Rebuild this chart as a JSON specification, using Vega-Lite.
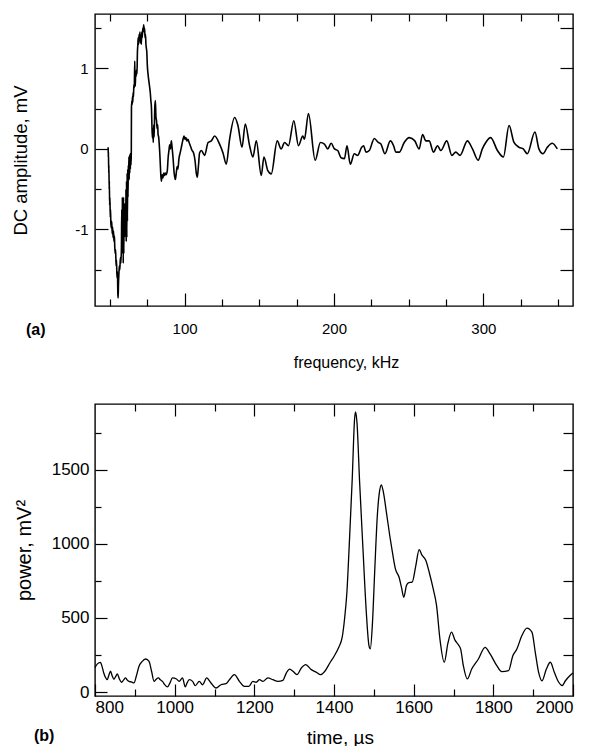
{
  "$schema": "https://vega.github.io/schema/vega-lite/v6.json",
  "background": "white",
  "padding": {"left": 10, "top": 12, "right": 5, "bottom": 0},
  "config": {
    "font": "Liberation Sans",
    "view": {"stroke": "black", "strokeWidth": 1.4},
    "axis": {"domain": false, "grid": false, "tickColor": "black", "labelColor": "black", "titleColor": "black", "titleFontWeight": "normal", "labelFont": "Liberation Sans", "titleFont": "Liberation Sans", "tickWidth": 1.2},
    "title": {"font": "Liberation Sans", "color": "black"}
  },
  "spacing": 31,
  "datasets": {
    "freq": [
      {"f":48.8,"v":0.02},{"f":48.9,"v":-0.1},{"f":49.0,"v":-0.04},{"f":49.2,"v":-0.3},{"f":49.3,"v":-0.2},{"f":49.5,"v":-0.5},{"f":49.6,"v":-0.4},{"f":49.8,"v":-0.7},{"f":50.0,"v":-0.6},{"f":50.2,"v":-0.85},{"f":50.4,"v":-0.75},{"f":50.6,"v":-0.92},{"f":50.9,"v":-0.98},{"f":51.2,"v":-0.9},{"f":51.5,"v":-1.05},{"f":51.8,"v":-0.97},{"f":52.1,"v":-1.1},{"f":52.4,"v":-1.02},{"f":52.7,"v":-1.15},{"f":53.0,"v":-1.08},{"f":53.2,"v":-1.2},{"f":53.5,"v":-1.3},{"f":53.8,"v":-1.25},{"f":54.1,"v":-1.45},{"f":54.4,"v":-1.38},{"f":54.7,"v":-1.6},{"f":55.0,"v":-1.52},{"f":55.3,"v":-1.8},{"f":55.5,"v":-1.85},{"f":55.7,"v":-1.68},{"f":56.0,"v":-1.55},{"f":56.3,"v":-1.45},{"f":56.6,"v":-1.5},{"f":57.0,"v":-1.35},{"f":57.3,"v":-1.42},{"f":57.7,"v":-1.22},{"f":57.9,"v":-0.75},{"f":58.1,"v":-1.2},{"f":58.3,"v":-0.6},{"f":58.5,"v":-1.3},{"f":58.7,"v":-0.65},{"f":58.9,"v":-1.42},{"f":59.1,"v":-0.6},{"f":59.3,"v":-1.3},{"f":59.5,"v":-0.7},{"f":59.7,"v":-1.1},{"f":59.9,"v":-0.68},{"f":60.1,"v":-1.05},{"f":60.3,"v":-0.7},{"f":60.5,"v":-1.09},{"f":60.7,"v":-0.5},{"f":60.9,"v":-1.15},{"f":61.1,"v":-0.4},{"f":61.3,"v":-1.1},{"f":61.5,"v":-0.3},{"f":61.7,"v":-0.9},{"f":61.9,"v":-0.25},{"f":62.1,"v":-0.6},{"f":62.3,"v":-0.2},{"f":62.5,"v":-0.35},{"f":62.7,"v":-0.1},{"f":62.9,"v":-0.38},{"f":63.1,"v":-0.08},{"f":63.3,"v":-0.3},{"f":63.5,"v":-0.06},{"f":63.7,"v":-0.25},{"f":63.9,"v":-0.05},{"f":64.1,"v":-0.2},{"f":64.3,"v":-0.05},{"f":64.4,"v":0.5},{"f":64.7,"v":0.6},{"f":64.9,"v":0.55},{"f":65.1,"v":0.65},{"f":65.3,"v":0.58},{"f":65.5,"v":0.7},{"f":65.8,"v":0.65},{"f":66.0,"v":0.8},{"f":66.3,"v":0.75},{"f":66.6,"v":1.09},{"f":66.8,"v":0.85},{"f":67.0,"v":0.78},{"f":67.2,"v":0.95},{"f":67.5,"v":0.9},{"f":67.8,"v":0.98},{"f":68.1,"v":0.93},{"f":68.4,"v":1.2},{"f":68.7,"v":1.3},{"f":68.9,"v":1.38},{"f":69.2,"v":1.3},{"f":69.5,"v":1.42},{"f":69.8,"v":1.35},{"f":70.1,"v":1.45},{"f":70.4,"v":1.32},{"f":70.7,"v":1.4},{"f":71.0,"v":1.3},{"f":71.3,"v":1.45},{"f":71.6,"v":1.38},{"f":72.0,"v":1.5},{"f":72.3,"v":1.45},{"f":72.6,"v":1.54},{"f":72.9,"v":1.48},{"f":73.2,"v":1.5},{"f":73.5,"v":1.38},{"f":73.8,"v":1.42},{"f":74.1,"v":1.3},{"f":74.4,"v":1.25},{"f":74.7,"v":1.2},{"f":75.0,"v":1.05},{"f":75.5,"v":0.93},{"f":76.0,"v":0.85},{"f":76.5,"v":0.78},{"f":77.0,"v":0.7},{"f":77.4,"v":0.6},{"f":77.8,"v":0.51},{"f":78.1,"v":0.3},{"f":78.4,"v":0.14},{"f":78.7,"v":0.25},{"f":79.0,"v":0.08},{"f":79.3,"v":0.3},{"f":79.6,"v":0.15},{"f":80.0,"v":0.5},{"f":80.4,"v":0.6},{"f":80.8,"v":0.4},{"f":81.2,"v":0.35},{"f":81.6,"v":0.25},{"f":82.0,"v":0.3},{"f":82.2,"v":0.18},{"f":82.6,"v":0.15},{"f":83.0,"v":0.06},{"f":83.5,"v":-0.1},{"f":84.0,"v":-0.3},{"f":84.4,"v":-0.4},{"f":85.0,"v":-0.32},{"f":85.5,"v":-0.36},{"f":86.0,"v":-0.3},{"f":86.5,"v":-0.33},{"f":87.0,"v":-0.3},{"f":87.6,"v":-0.32},{"f":88.4,"v":-0.27},{"f":89.0,"v":-0.1},{"f":89.5,"v":-0.02},{"f":90.0,"v":0.05},{"f":90.5,"v":0.0},{"f":91.1,"v":0.1},{"f":91.6,"v":0.02},{"f":92.2,"v":-0.1},{"f":93.0,"v":-0.3},{"f":93.8,"v":-0.38},{"f":94.4,"v":-0.3},{"f":95.0,"v":-0.22},{"f":95.5,"v":-0.25},{"f":96.2,"v":-0.12},{"f":97.0,"v":-0.05},{"f":97.8,"v":0.02},{"f":98.7,"v":0.1},{"f":99.6,"v":0.16},{"f":100.2,"v":0.12},{"f":100.8,"v":0.14},{"f":101.5,"v":0.1},{"f":102.2,"v":0.12},{"f":103.0,"v":0.08},{"f":104.0,"v":0.03},{"f":105.0,"v":-0.02},{"f":106.0,"v":-0.05},{"f":107.0,"v":-0.15},{"f":107.8,"v":-0.3},{"f":108.5,"v":-0.35},{"f":109.3,"v":-0.2},{"f":110.0,"v":-0.05},{"f":111.2,"v":-0.02},{"f":113.4,"v":-0.08},{"f":115.7,"v":0.08},{"f":117.9,"v":0.1},{"f":120.1,"v":0.16},{"f":123.4,"v":0.06},{"f":125.7,"v":-0.05},{"f":127.9,"v":-0.19},{"f":130.1,"v":0.12},{"f":133.5,"v":0.39},{"f":135.7,"v":0.29},{"f":138.4,"v":0.02},{"f":140.6,"v":0.31},{"f":143.5,"v":0.04},{"f":145.7,"v":-0.1},{"f":148.0,"v":0.1},{"f":151.3,"v":-0.33},{"f":153.1,"v":-0.1},{"f":155.7,"v":-0.27},{"f":158.0,"v":-0.31},{"f":162.0,"v":0.1},{"f":164.6,"v":0.0},{"f":166.9,"v":0.08},{"f":169.5,"v":0.04},{"f":173.1,"v":0.35},{"f":176.2,"v":0.04},{"f":179.1,"v":0.16},{"f":180.2,"v":0.12},{"f":182.9,"v":0.44},{"f":187.4,"v":-0.14},{"f":190.9,"v":0.08},{"f":193.6,"v":0.06},{"f":195.8,"v":0.0},{"f":198.1,"v":0.07},{"f":200.3,"v":0.0},{"f":202.5,"v":-0.02},{"f":204.7,"v":-0.11},{"f":207.0,"v":-0.12},{"f":208.7,"v":0.04},{"f":210.9,"v":-0.19},{"f":213.6,"v":-0.06},{"f":215.8,"v":-0.08},{"f":218.5,"v":0.02},{"f":219.8,"v":0.04},{"f":221.4,"v":-0.04},{"f":223.6,"v":-0.02},{"f":227.0,"v":0.13},{"f":229.6,"v":0.08},{"f":231.4,"v":0.06},{"f":234.1,"v":-0.06},{"f":237.7,"v":0.1},{"f":239.9,"v":0.04},{"f":241.4,"v":-0.04},{"f":243.7,"v":-0.04},{"f":247.0,"v":0.08},{"f":250.4,"v":0.14},{"f":254.1,"v":0.1},{"f":257.0,"v":0.0},{"f":259.3,"v":0.18},{"f":261.5,"v":0.1},{"f":263.7,"v":0.1},{"f":266.6,"v":-0.04},{"f":269.3,"v":0.04},{"f":271.5,"v":-0.02},{"f":275.5,"v":0.1},{"f":278.9,"v":-0.08},{"f":281.5,"v":-0.04},{"f":284.4,"v":-0.08},{"f":289.3,"v":0.1},{"f":292.7,"v":0.0},{"f":296.5,"v":-0.14},{"f":299.3,"v":0.0},{"f":301.6,"v":0.08},{"f":304.9,"v":0.14},{"f":309.4,"v":-0.02},{"f":313.4,"v":-0.1},{"f":317.2,"v":0.29},{"f":320.5,"v":0.08},{"f":323.9,"v":0.02},{"f":326.7,"v":0.0},{"f":329.4,"v":-0.06},{"f":334.5,"v":0.21},{"f":337.2,"v":0.0},{"f":339.9,"v":-0.06},{"f":342.8,"v":0.02},{"f":346.1,"v":0.07},{"f":349.5,"v":0.0}
    ],
    "time": [
      {"t":800,"p":165},{"t":806,"p":190},{"t":813.6,"p":200},{"t":818,"p":170},{"t":822,"p":128},{"t":826,"p":100},{"t":830.6,"p":83},{"t":835,"p":115},{"t":839,"p":140},{"t":843,"p":110},{"t":847.5,"p":86},{"t":852,"p":105},{"t":855.9,"p":122},{"t":861,"p":90},{"t":866.8,"p":66},{"t":872,"p":82},{"t":876.9,"p":95},{"t":881,"p":80},{"t":885.3,"p":72},{"t":891,"p":68},{"t":897.9,"p":61},{"t":904,"p":110},{"t":910.5,"p":174},{"t":918,"p":205},{"t":927.3,"p":223},{"t":935.7,"p":207},{"t":942,"p":140},{"t":948.3,"p":72},{"t":953,"p":85},{"t":959.2,"p":95},{"t":964,"p":82},{"t":969.3,"p":72},{"t":975,"p":50},{"t":981.9,"p":34},{"t":988,"p":60},{"t":994.5,"p":95},{"t":1004.6,"p":88},{"t":1011.3,"p":72},{"t":1019.7,"p":95},{"t":1026.5,"p":34},{"t":1031,"p":60},{"t":1036.6,"p":83},{"t":1045,"p":72},{"t":1051.7,"p":43},{"t":1061.8,"p":72},{"t":1070.2,"p":49},{"t":1080.3,"p":95},{"t":1091.2,"p":61},{"t":1103.8,"p":27},{"t":1116.4,"p":49},{"t":1129,"p":56},{"t":1137.4,"p":83},{"t":1150,"p":117},{"t":1162.6,"p":72},{"t":1175.2,"p":38},{"t":1186.2,"p":38},{"t":1196.2,"p":72},{"t":1204.6,"p":66},{"t":1213,"p":83},{"t":1221.5,"p":72},{"t":1234,"p":95},{"t":1246.6,"p":83},{"t":1259.2,"p":72},{"t":1271.8,"p":79},{"t":1280.2,"p":128},{"t":1288.6,"p":155},{"t":1297,"p":140},{"t":1307.1,"p":117},{"t":1318,"p":162},{"t":1329,"p":185},{"t":1343,"p":151},{"t":1356,"p":133},{"t":1366,"p":117},{"t":1377,"p":140},{"t":1389.5,"p":196},{"t":1401,"p":245},{"t":1412,"p":302},{"t":1420.6,"p":370},{"t":1426.5,"p":493},{"t":1432.4,"p":674},{"t":1439,"p":1034},{"t":1445.8,"p":1440},{"t":1451.7,"p":1845},{"t":1454.2,"p":1891},{"t":1457.6,"p":1823},{"t":1464.3,"p":1418},{"t":1472.7,"p":967},{"t":1481.1,"p":539},{"t":1487.8,"p":313},{"t":1491.2,"p":291},{"t":1496.2,"p":448},{"t":1502.1,"p":809},{"t":1508.8,"p":1192},{"t":1514.7,"p":1361},{"t":1518.9,"p":1399},{"t":1523.1,"p":1361},{"t":1531.5,"p":1215},{"t":1539.9,"p":1057},{"t":1546.6,"p":944},{"t":1554.2,"p":831},{"t":1563.4,"p":775},{"t":1569.3,"p":708},{"t":1575.2,"p":640},{"t":1581.9,"p":719},{"t":1587.8,"p":739},{"t":1596.2,"p":742},{"t":1605.4,"p":854},{"t":1613.8,"p":962},{"t":1620.5,"p":926},{"t":1630.6,"p":888},{"t":1639,"p":809},{"t":1649.1,"p":696},{"t":1657.5,"p":583},{"t":1665.9,"p":358},{"t":1676.8,"p":201},{"t":1686,"p":330},{"t":1695,"p":404},{"t":1703.7,"p":350},{"t":1712,"p":320},{"t":1718,"p":290},{"t":1724.7,"p":178},{"t":1734.8,"p":88},{"t":1745.7,"p":155},{"t":1762.5,"p":223},{"t":1779.3,"p":302},{"t":1791.9,"p":257},{"t":1808.7,"p":178},{"t":1821.3,"p":137},{"t":1838.1,"p":144},{"t":1849,"p":245},{"t":1859.1,"p":291},{"t":1871.7,"p":381},{"t":1884.3,"p":431},{"t":1896.9,"p":404},{"t":1905.3,"p":268},{"t":1913.7,"p":133},{"t":1922.1,"p":76},{"t":1933.1,"p":155},{"t":1943.1,"p":201},{"t":1953.2,"p":133},{"t":1964.2,"p":66},{"t":1972.6,"p":43},{"t":1981,"p":76},{"t":1991.9,"p":110},{"t":2000,"p":128}
    ]
  },
  "vconcat": [
    {
      "width": 478,
      "height": 292,
      "data": {"name": "freq"},
      "title": {"text": "(a)", "orient": "bottom", "anchor": "start", "frame": "bounds", "fontSize": 16, "fontWeight": "bold", "dx": 15, "dy": -52},
      "layer": [
        {
          "mark": {"type": "line", "color": "black", "strokeWidth": 1.6, "interpolate": "monotone"},
          "encoding": {
            "x": {"field": "f", "type": "quantitative", "scale": {"domain": [40, 360], "nice": false, "zero": false},
              "axis": {"orient": "bottom", "values": [50,75,100,125,150,175,200,225,250,275,300,325,350],
                "labelExpr": "datum.value % 100 === 0 ? datum.label : ''",
                "tickSize": {"condition": {"test": "datum.value % 100 === 0", "value": -13}, "value": -7},
                "labelPadding": 28, "labelFontSize": 15, "title": "frequency, kHz", "titleFontSize": 16, "titleX": 251, "titleY": 56, "titleBaseline": "middle"}},
            "y": {"field": "v", "type": "quantitative", "scale": {"domain": [-1.95, 1.675], "nice": false, "zero": false},
              "axis": {"orient": "left", "values": [-1.5,-1,-0.5,0,0.5,1,1.5],
                "labelExpr": "datum.value % 1 === 0 ? toString(datum.value) : ''",
                "tickSize": {"condition": {"test": "datum.value % 1 === 0", "value": -13}, "value": -6},
                "labelPadding": 20, "labelFontSize": 15, "title": "DC amplitude, mV", "titleFontSize": 18.5, "titleX": -75, "titleBaseline": "middle"}}
          }
        },
        {
          "mark": {"type": "line", "strokeOpacity": 0, "interpolate": "monotone"},
          "encoding": {
            "x": {"field": "f", "type": "quantitative",
              "axis": {"orient": "top", "values": [50,75,100,125,150,175,200,225,250,275,300,325,350], "labels": false, "title": null,
                "tickSize": {"condition": {"test": "datum.value % 100 === 0", "value": -12}, "value": -7}}},
            "y": {"field": "v", "type": "quantitative",
              "axis": {"orient": "right", "values": [-1.5,-1,-0.5,0,0.5,1,1.5], "labels": false, "title": null, "tickSize": -13}}
          }
        }
      ],
      "resolve": {"axis": {"x": "independent", "y": "independent"}}
    },
    {
      "width": 478,
      "height": 292,
      "data": {"name": "time"},
      "title": {"text": "(b)", "orient": "bottom", "anchor": "start", "frame": "bounds", "fontSize": 16, "fontWeight": "bold", "dx": 20, "dy": -23},
      "layer": [
        {
          "mark": {"type": "line", "color": "black", "strokeWidth": 1.3, "interpolate": "monotone"},
          "encoding": {
            "x": {"field": "t", "type": "quantitative", "scale": {"domain": [800, 2000], "nice": false, "zero": false},
              "axis": {"orient": "bottom", "values": [800,900,1000,1100,1200,1300,1400,1500,1600,1700,1800,1900,2000], "format": "d",
                "labelExpr": "datum.value % 200 === 0 ? datum.label : ''",
                "tickSize": {"condition": {"test": "datum.value % 200 === 0", "value": -12}, "value": -7},
                "labelPadding": 15, "labelFontSize": 17, "title": "time, µs", "titleFontSize": 19, "titleX": 245, "titleY": 41, "titleBaseline": "middle"}},
            "y": {"field": "p", "type": "quantitative", "scale": {"domain": [-27, 1945], "nice": false, "zero": false},
              "axis": {"orient": "left", "values": [0,250,500,750,1000,1250,1500,1750], "format": "d",
                "labelExpr": "datum.value % 500 === 0 ? datum.label : ''",
                "tickSize": {"condition": {"test": "datum.value % 500 === 0", "value": -12}, "value": -6},
                "labelPadding": 18, "labelFontSize": 17, "title": "power, mV²", "titleFontSize": 20, "titleX": -71, "titleBaseline": "middle"}}
          }
        },
        {
          "mark": {"type": "line", "strokeOpacity": 0, "interpolate": "monotone"},
          "encoding": {
            "x": {"field": "t", "type": "quantitative",
              "axis": {"orient": "top", "values": [900,1000,1100,1200,1300,1400,1500,1600,1700,1800,1900], "labels": false, "title": null,
                "tickSize": {"condition": {"test": "datum.value % 200 === 0", "value": -12}, "value": -7}}},
            "y": {"field": "p", "type": "quantitative",
              "axis": {"orient": "right", "values": [250,500,750,1000,1250,1500,1750], "labels": false, "title": null, "tickSize": -10}}
          }
        }
      ],
      "resolve": {"axis": {"x": "independent", "y": "independent"}}
    }
  ]
}
